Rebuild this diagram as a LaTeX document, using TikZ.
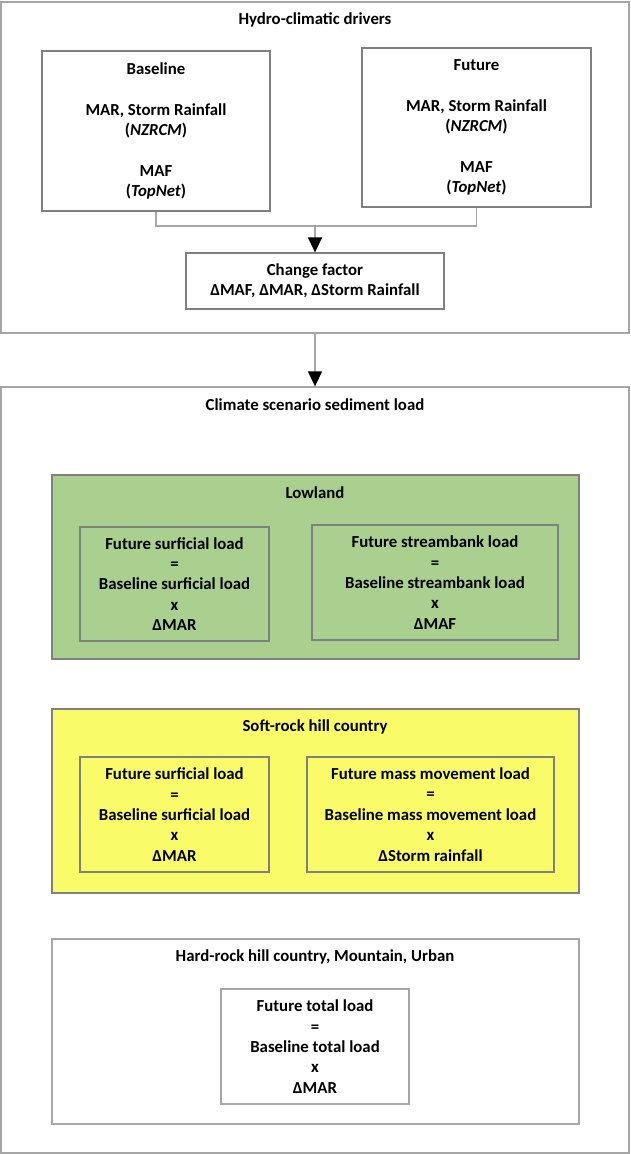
\documentclass[tikz,border=0pt]{standalone}
\usepackage{fontspec}
\setmainfont{Carlito}
\usetikzlibrary{arrows.meta}
\definecolor{framegray}{RGB}{166,166,166}
\definecolor{boxgray}{RGB}{128,128,128}
\definecolor{lowgreen}{RGB}{169,208,142}
\definecolor{softyellow}{RGB}{249,252,104}
\newcommand{\dfont}{\fontsize{16.8}{20.4}\selectfont\bfseries}
\tikzset{
  frame/.style={draw=framegray, line width=1.3pt, fill=white, inner sep=0pt},
  zone/.style={draw=boxgray, line width=1.2pt, inner sep=0pt},
  calcbox/.style={draw=boxgray, line width=1.2pt, inner sep=0pt, align=center, font=\dfont},
  title/.style={font=\dfont, inner sep=0pt},
  conn/.style={draw=framegray, line width=1.3pt},
  arr/.style={conn, -{Triangle[width=14pt,length=15pt,color=black,fill=black]}}
}
\begin{document}
\begin{tikzpicture}[x=1pt,y=-1pt]
\useasboundingbox (0,0) rectangle (630,1154);
\fill[white] (0,0) rectangle (630,1154);

% Hydro-climatic drivers panel
\node[frame, minimum width=628pt, minimum height=331pt] (hyd) at (315,167.5) {};
\node[title] (hydt) at (315,20) {Hydro-climatic drivers};
\node[calcbox, minimum width=228pt, minimum height=160pt] (base) at (156,131)
  {Baseline\\[20.4pt]MAR, Storm Rainfall\\(\textit{NZRCM})\\[20.4pt]MAF\\(\textit{TopNet})};
\node[calcbox, minimum width=229pt, minimum height=159pt] (fut) at (476.5,127.5)
  {Future\\[20.4pt]MAR, Storm Rainfall\\(\textit{NZRCM})\\[20.4pt]MAF\\(\textit{TopNet})};
\node[calcbox, minimum width=258pt, minimum height=56pt] (chg) at (315,281)
  {Change factor\\ΔMAF, ΔMAR, ΔStorm Rainfall};
\coordinate (join) at (315,226);
\draw[conn] (base.south) |- (join) -| (fut.south);
\draw[arr] (join) -- (chg.north);

% Climate scenario sediment load panel
\node[frame, minimum width=628pt, minimum height=766pt] (scen) at (315,770) {};
\draw[arr] (hyd.south) -- (scen.north);
\node[title] (scent) at (315,405) {Climate scenario sediment load};

% Lowland
\node[zone, fill=lowgreen, minimum width=527pt, minimum height=184pt] (low) at (315.5,567) {};
\node[title] (lowt) at (315,493) {Lowland};
\node[calcbox, minimum width=189pt, minimum height=114pt] (low1) at (174.5,584)
  {Future surficial load\\=\\Baseline surficial load\\x\\ΔMAR};
\node[calcbox, minimum width=246pt, minimum height=115pt] (low2) at (435,582.5)
  {Future streambank load\\=\\Baseline streambank load\\x\\ΔMAF};

% Soft-rock hill country
\node[zone, fill=softyellow, minimum width=527pt, minimum height=184pt] (soft) at (315.5,801) {};
\node[title] (softt) at (315,727) {Soft-rock hill country};
\node[calcbox, minimum width=189pt, minimum height=115pt] (soft1) at (174.5,814.5)
  {Future surficial load\\=\\Baseline surficial load\\x\\ΔMAR};
\node[calcbox, minimum width=247pt, minimum height=115pt] (soft2) at (430.5,814.5)
  {Future mass movement load\\=\\Baseline mass movement load\\x\\ΔStorm rainfall};

% Hard-rock hill country, Mountain, Urban
\node[zone, draw=framegray, fill=white, minimum width=527pt, minimum height=185pt] (hard) at (315.5,1031.5) {};
\node[title] (hardt) at (315,957) {Hard-rock hill country, Mountain, Urban};
\node[calcbox, draw=framegray, minimum width=188pt, minimum height=115pt] (hard1) at (315,1046.5)
  {Future total load\\=\\Baseline total load\\x\\ΔMAR};
\end{tikzpicture}
\end{document}
